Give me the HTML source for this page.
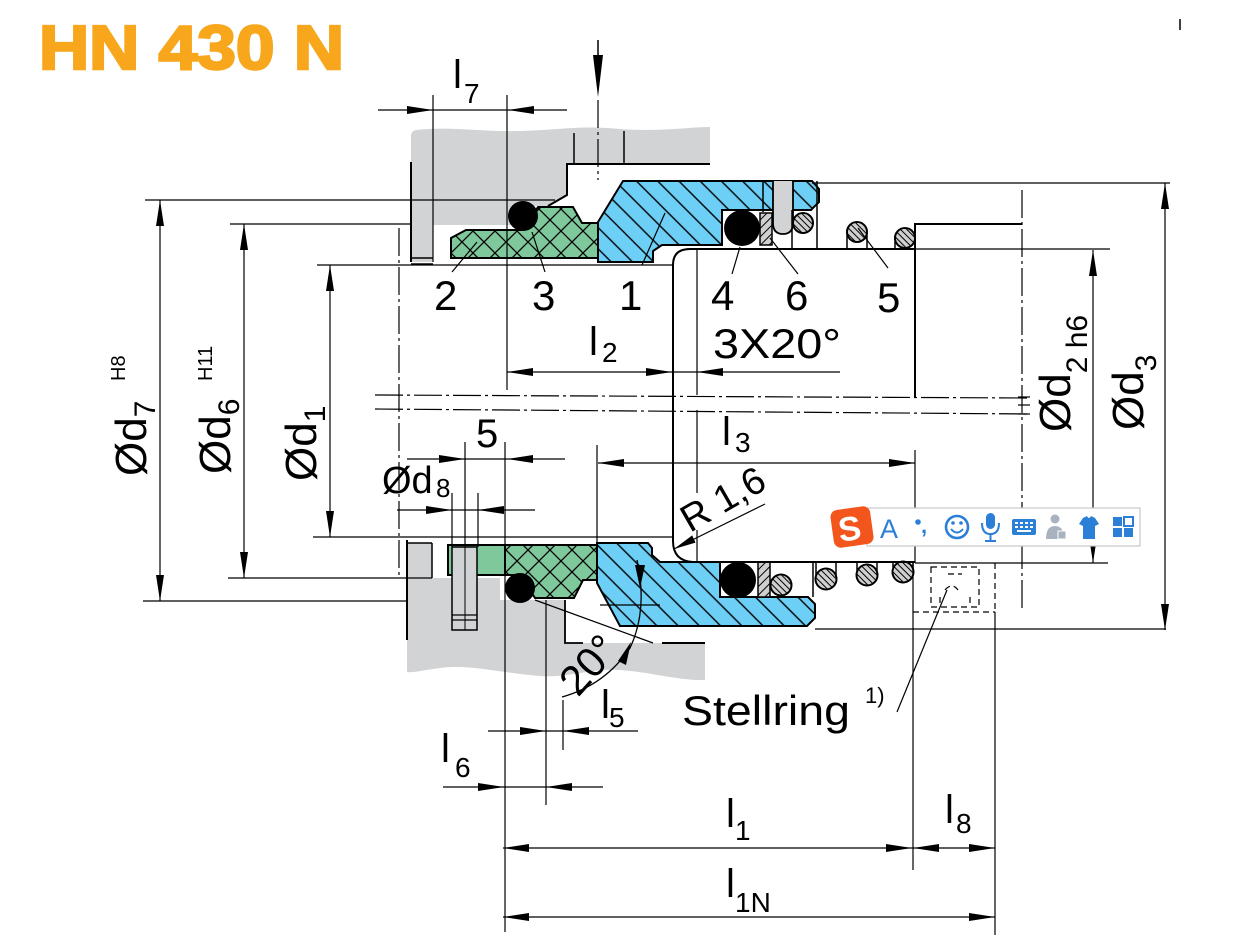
<!DOCTYPE html>
<html><head><meta charset="utf-8"><style>
html,body{margin:0;padding:0;background:#fff;}
svg{display:block;}
text{font-family:"Liberation Sans",sans-serif;fill:#000;}
</style></head><body>
<svg width="1253" height="949" viewBox="0 0 1253 949" xmlns="http://www.w3.org/2000/svg">
<defs>
 <pattern id="xh" patternUnits="userSpaceOnUse" width="22" height="22">
  <path d="M0,0L22,22M22,0L0,22" stroke="#000" stroke-width="1.3"/>
 </pattern>
 <pattern id="bh" patternUnits="userSpaceOnUse" width="15" height="15" patternTransform="rotate(-45)">
  <line x1="7" y1="0" x2="7" y2="15" stroke="#000" stroke-width="1.4"/>
 </pattern>
 <pattern id="ch" patternUnits="userSpaceOnUse" width="4.5" height="4.5" patternTransform="rotate(-45)">
  <line x1="2" y1="0" x2="2" y2="4.5" stroke="#000" stroke-width="1"/>
 </pattern>
 <pattern id="ph" patternUnits="userSpaceOnUse" width="6" height="6" patternTransform="rotate(45)">
  <line x1="3" y1="0" x2="3" y2="6" stroke="#000" stroke-width="1"/>
 </pattern>
</defs>

<!-- Title -->
<text x="39" y="69" font-size="62" font-weight="bold" style="fill:#f8a61c;stroke:#f8a61c;stroke-width:2.5" textLength="305" lengthAdjust="spacingAndGlyphs">HN 430 N</text>
<line x1="1180" y1="19" x2="1180" y2="30" stroke="#000" stroke-width="1.5"/>

<!-- ===== Upper gray housing ===== -->
<path d="M411,136 Q411,131 416,130 C450,126 480,132 520,131 C560,130 580,125 620,129 C660,132 690,127 710,127 L710,164 L567,164 L567,195 L548,206 L512,206 L512,225 L433,225 L433,262 L411,262 Z" fill="#d1d3d4"/>
<g stroke="#000" fill="none">
 <path d="M710,164 L567,164 L567,195 L548,206" stroke-width="2"/>
 <line x1="411" y1="162" x2="411" y2="262" stroke-width="2"/>
 <line x1="411" y1="258" x2="433" y2="258" stroke-width="1.5"/>
 <line x1="411" y1="264" x2="433" y2="264" stroke-width="1.5"/>
 <line x1="574" y1="133" x2="574" y2="164" stroke-width="1.5"/>
 <line x1="624" y1="131" x2="624" y2="164" stroke-width="1.5"/>
</g>

<!-- ===== Lower gray housing ===== -->
<path d="M407,543 L432,543 L432,578 L500,578 L500,600 L565,600 L565,643 L705,643 L705,680 C680,681 650,672 620,670 C590,668 570,678 540,676 C500,673 470,664 440,668 C425,670 412,673 407,672 Z" fill="#d1d3d4"/>
<g stroke="#000" fill="none">
 <line x1="407" y1="540" x2="407" y2="640" stroke-width="2"/>
 <line x1="432" y1="543" x2="432" y2="578" stroke-width="1.5"/>
 <line x1="407" y1="543" x2="432" y2="543" stroke-width="1.5"/>
 <path d="M565,600 L565,643 L583,643" stroke-width="1.8"/>
 <line x1="662" y1="643" x2="705" y2="643" stroke-width="2"/>
 <line x1="535" y1="600" x2="653" y2="643" stroke-width="1.2"/>
</g>

<!-- ===== Upper green seat ===== -->
<polygon points="451,238 466,230 523,230 538,207 573,207 582,223 598,223 598,258 451,258" fill="#7fc89b"/>
<polygon points="451,238 466,230 523,230 538,207 573,207 582,223 598,223 598,258 451,258" fill="url(#xh)" stroke="#000" stroke-width="2"/>
<circle cx="523" cy="216" r="15" fill="#000"/>

<!-- ===== Lower green seat ===== -->
<rect x="448" y="545" width="57" height="30" fill="#7fc89b" stroke="#000" stroke-width="2"/>
<polygon points="505,545 597,545 597,580 583,580 574,598 535,598 520,575 505,575" fill="#7fc89b"/>
<polygon points="505,545 597,545 597,580 583,580 574,598 535,598 520,575 505,575" fill="url(#xh)" stroke="#000" stroke-width="2"/>
<circle cx="520" cy="588" r="15" fill="#000"/>
<!-- d8 pin -->
<rect x="452" y="547" width="25" height="83" fill="#d1d3d4" stroke="#000" stroke-width="1.5"/>
<line x1="465" y1="547" x2="465" y2="630" stroke="#000" stroke-width="1"/>
<line x1="452" y1="615" x2="477" y2="615" stroke="#000" stroke-width="1.2"/>
<line x1="452" y1="620" x2="477" y2="620" stroke="#000" stroke-width="1.2"/>

<!-- ===== Upper blue ring ===== -->
<polygon points="598,222 623,181 812,181 819,189 819,202 811,210 722,210 722,245 662,245 653,251 653,262 598,262" fill="#6dcff6"/>
<polygon points="598,222 623,181 812,181 819,189 819,202 811,210 722,210 722,245 662,245 653,251 653,262 598,262" fill="url(#bh)" stroke="#000" stroke-width="2"/>
<line x1="763" y1="181" x2="763" y2="212" stroke="#000" stroke-width="1.5"/>
<path d="M773,181 L773,223 Q773,234 783,234 Q793,234 793,223 L793,181" fill="#d1d3d4" stroke="#000" stroke-width="1.8"/>
<rect x="760" y="213" width="12" height="32" fill="#cfcfcf"/>
<rect x="760" y="213" width="12" height="32" fill="url(#ph)" stroke="#000" stroke-width="1.5"/>
<circle cx="742" cy="228" r="18" fill="#000"/>

<!-- ===== Lower blue ring ===== -->
<polygon points="597,543 648,543 652,548 652,555 660,562 720,562 720,597 808,597 815,604 815,618 807,626 620,626 597,583" fill="#6dcff6"/>
<polygon points="597,543 648,543 652,548 652,555 660,562 720,562 720,597 808,597 815,604 815,618 807,626 620,626 597,583" fill="url(#bh)" stroke="#000" stroke-width="2"/>
<line x1="600" y1="605" x2="660" y2="605" stroke="#000" stroke-width="1.2"/>
<rect x="758" y="562" width="12" height="35" fill="#cfcfcf"/>
<rect x="758" y="562" width="12" height="35" fill="url(#ph)" stroke="#000" stroke-width="1.5"/>
<circle cx="738" cy="580" r="18" fill="#000"/>

<!-- ===== Springs ===== -->
<g stroke="#000" stroke-width="1.5" fill="none">
 <line x1="792" y1="210" x2="792" y2="248"/>
 <line x1="817" y1="181" x2="817" y2="248"/>
 <line x1="847" y1="232" x2="847" y2="248"/><line x1="867" y1="232" x2="867" y2="248"/>
 <line x1="895" y1="238" x2="895" y2="248"/><line x1="915" y1="238" x2="915" y2="248"/>
 <line x1="813" y1="562" x2="813" y2="597"/>
 <line x1="816" y1="563" x2="816" y2="579"/><line x1="836" y1="563" x2="836" y2="579"/>
 <line x1="857" y1="563" x2="857" y2="575"/><line x1="877" y1="563" x2="877" y2="575"/>
 <line x1="893" y1="563" x2="893" y2="572"/><line x1="913" y1="563" x2="913" y2="572"/>
</g>
<g stroke="#000" stroke-width="1.8">
 <circle cx="803" cy="223" r="10" fill="#cfcfcf"/><circle cx="803" cy="223" r="10" fill="url(#ch)"/>
 <circle cx="857" cy="232" r="10" fill="#cfcfcf"/><circle cx="857" cy="232" r="10" fill="url(#ch)"/>
 <circle cx="905" cy="238" r="10" fill="#cfcfcf"/><circle cx="905" cy="238" r="10" fill="url(#ch)"/>
 <circle cx="781" cy="585" r="10.5" fill="#cfcfcf"/><circle cx="781" cy="585" r="10.5" fill="url(#ch)"/>
 <circle cx="826" cy="579" r="10.5" fill="#cfcfcf"/><circle cx="826" cy="579" r="10.5" fill="url(#ch)"/>
 <circle cx="867" cy="575" r="10.5" fill="#cfcfcf"/><circle cx="867" cy="575" r="10.5" fill="url(#ch)"/>
 <circle cx="903" cy="572" r="10.5" fill="#cfcfcf"/><circle cx="903" cy="572" r="10.5" fill="url(#ch)"/>
</g>

<!-- ===== Shaft ===== -->
<g stroke="#000" fill="none">
 <path d="M673,541 L673,265 Q673,249 690,249 L915,249" stroke-width="2"/>
 <path d="M673,541 Q673,561 693,562 L915,562" stroke-width="2"/>
 <line x1="915" y1="249" x2="1110" y2="249" stroke-width="1.2"/>
 <line x1="915" y1="563" x2="1108" y2="563" stroke-width="1.2"/>
 <path d="M915,397 L915,224 L1022,224" stroke-width="2"/>
 <line x1="697" y1="249" x2="697" y2="395" stroke-width="1.2"/>
 <line x1="697" y1="410" x2="697" y2="493" stroke-width="1.2"/>
 <line x1="697" y1="530" x2="697" y2="562" stroke-width="1.2"/>
 <line x1="812" y1="183" x2="1170" y2="183" stroke-width="1.2"/>
 <line x1="815" y1="629" x2="1166" y2="629" stroke-width="1.2"/>
</g>

<!-- centre lines -->
<g stroke="#000" stroke-width="1.2" fill="none" stroke-dasharray="28 4 3 4">
 <line x1="375" y1="395" x2="1030" y2="398"/>
 <line x1="375" y1="409" x2="1030" y2="414"/>
 <line x1="399" y1="228" x2="399" y2="578"/>
 <line x1="1022" y1="190" x2="1022" y2="612"/>
 <line x1="598" y1="100" x2="598" y2="180"/>
</g>
<g stroke="#000" stroke-width="1.2">
 <line x1="1018" y1="397" x2="1030" y2="397"/><line x1="1018" y1="405" x2="1030" y2="405"/><line x1="1018" y1="414" x2="1030" y2="414"/>
</g>

<!-- extension lines -->
<g stroke="#000" stroke-width="1.2" fill="none">
 <line x1="145" y1="200" x2="555" y2="200"/>
 <line x1="230" y1="224" x2="411" y2="224"/>
 <line x1="317" y1="265" x2="673" y2="265"/>
 <line x1="313" y1="537" x2="673" y2="537"/>
 <line x1="228" y1="578" x2="432" y2="578"/>
 <line x1="143" y1="601" x2="407" y2="601"/>
 <line x1="433" y1="95" x2="433" y2="262"/>
 <line x1="507" y1="95" x2="507" y2="390"/>
 <line x1="505" y1="442" x2="505" y2="932"/>
 <line x1="465" y1="442" x2="465" y2="547"/>
 <line x1="452" y1="493" x2="452" y2="547"/>
 <line x1="478" y1="493" x2="478" y2="547"/>
 <line x1="546" y1="600" x2="546" y2="805"/>
 <line x1="563" y1="700" x2="563" y2="750"/>
 <line x1="597" y1="445" x2="597" y2="545"/>
 <line x1="913" y1="563" x2="913" y2="870"/>
 <line x1="995" y1="612" x2="995" y2="935"/>
 <line x1="915" y1="450" x2="915" y2="563"/>
</g>
<!-- stellring dashed -->
<g stroke="#000" stroke-width="1.2" fill="none" stroke-dasharray="6 4">
 <line x1="995" y1="563" x2="995" y2="612"/>
 <line x1="913" y1="612" x2="995" y2="612"/>
 <rect x="931" y="567" width="48" height="40"/>
 <path d="M945,590 Q952,582 958,590 M940,597 L940,607 M970,597 L970,607 M948,574 L962,574"/>
</g>

<!-- top arrow -->
<line x1="598" y1="40" x2="598" y2="70" stroke="#000" stroke-width="1.5"/>
<polygon points="598,97 593,55 603,55" fill="#000"/>

<!-- dimension lines -->
<g stroke="#000" stroke-width="1.2">
 <line x1="160" y1="200" x2="160" y2="601"/>
 <line x1="244" y1="224" x2="244" y2="578"/>
 <line x1="330" y1="265" x2="330" y2="537"/>
 <line x1="1093" y1="250" x2="1093" y2="563"/>
 <line x1="1165" y1="183" x2="1165" y2="630"/>
 <line x1="378" y1="110" x2="567" y2="110"/>
 <line x1="507" y1="372" x2="840" y2="372"/>
 <line x1="407" y1="459" x2="565" y2="459"/>
 <line x1="397" y1="510" x2="535" y2="510"/>
 <line x1="598" y1="463" x2="915" y2="463"/>
 <line x1="488" y1="731" x2="638" y2="731"/>
 <line x1="443" y1="787" x2="603" y2="787"/>
 <line x1="503" y1="848" x2="995" y2="848"/>
 <line x1="503" y1="917" x2="995" y2="917"/>
 <line x1="765" y1="504" x2="674" y2="549"/>
 <line x1="897" y1="712" x2="947" y2="590"/>
</g>
<g fill="#000">
 <polygon points="160,200 156,226 164,226"/><polygon points="160,601 156,575 164,575"/>
 <polygon points="244,224 240,250 248,250"/><polygon points="244,578 240,552 248,552"/>
 <polygon points="330,265 326,291 334,291"/><polygon points="330,537 326,511 334,511"/>
 <polygon points="1093,250 1089,276 1097,276"/><polygon points="1093,563 1089,537 1097,537"/>
 <polygon points="1165,183 1161,209 1169,209"/><polygon points="1165,630 1161,604 1169,604"/>
 <polygon points="433,110 407,106 407,114"/><polygon points="508,110 534,106 534,114"/>
 <polygon points="507,372 533,368 533,376"/><polygon points="672,372 646,368 646,376"/><polygon points="697,372 723,368 723,376"/>
 <polygon points="465,459 439,455 439,463"/><polygon points="507,459 533,455 533,463"/>
 <polygon points="452,510 426,506 426,514"/><polygon points="478,510 504,506 504,514"/>
 <polygon points="598,463 624,459 624,467"/><polygon points="915,463 889,459 889,467"/>
 <polygon points="546,731 520,727 520,735"/><polygon points="563,731 589,727 589,735"/>
 <polygon points="504,787 478,783 478,791"/><polygon points="546,787 572,783 572,791"/>
 <polygon points="503,848 529,844 529,852"/><polygon points="912,848 886,844 886,852"/>
 <polygon points="913,848 939,844 939,852"/><polygon points="995,848 969,844 969,852"/>
 <polygon points="503,917 529,913 529,921"/><polygon points="995,917 969,913 969,921"/>
 <polygon points="674,549 695.5,542.6 692.2,535.4"/>
 <polygon points="635,565 645,565 640,588"/>
 <polygon points="631,642 618,661 626,665"/>
</g>
<!-- 20° arc -->
<path d="M637,560 Q648,610 630,648 Q605,685 562,697" stroke="#000" stroke-width="1.3" fill="none"/>

<!-- part leaders -->
<g stroke="#000" stroke-width="1.2">
 <line x1="452" y1="272" x2="477" y2="242"/>
 <line x1="545" y1="272" x2="532" y2="232"/>
 <line x1="642" y1="265" x2="665" y2="213"/>
 <line x1="732" y1="274" x2="740" y2="247"/>
 <line x1="798" y1="274" x2="770" y2="238"/>
 <line x1="888" y1="268" x2="858" y2="228"/>
</g>

<!-- part numbers -->
<g font-size="42">
 <text x="434" y="310">2</text>
 <text x="532" y="310">3</text>
 <text x="619" y="310">1</text>
 <text x="711" y="310">4</text>
 <text x="785" y="310">6</text>
 <text x="877" y="312">5</text>
</g>

<!-- dimension labels -->
<text x="453" y="88" font-size="40">l</text><text x="464" y="103" font-size="28">7</text>
<text x="589" y="355" font-size="40">l</text><text x="602" y="362" font-size="28">2</text>
<text x="713" y="358" font-size="42" textLength="128" lengthAdjust="spacingAndGlyphs">3X20°</text>
<text x="722" y="445" font-size="40">l</text><text x="735" y="452" font-size="28">3</text>
<text x="476" y="447" font-size="40">5</text>
<text x="382" y="493" font-size="38">Ød</text><text x="436" y="497" font-size="26">8</text>
<text x="601" y="718" font-size="40">l</text><text x="609" y="727" font-size="28">5</text>
<text x="441" y="762" font-size="40">l</text><text x="455" y="777" font-size="28">6</text>
<text x="726" y="827" font-size="40">l</text><text x="735" y="840" font-size="28">1</text>
<text x="945" y="823" font-size="40">l</text><text x="956" y="833" font-size="28">8</text>
<text x="726" y="897" font-size="40">l</text><text x="735" y="912" font-size="28">1N</text>
<text x="682" y="725" font-size="42" textLength="168" lengthAdjust="spacingAndGlyphs">Stellring</text>
<text x="865" y="703" font-size="22">1)</text>
<text transform="translate(690,533) rotate(-30)" font-size="38">R 1,6</text>
<text transform="translate(578,698) rotate(-48)" font-size="42">20°</text>

<!-- rotated diameter labels -->
<text transform="translate(146,476) rotate(-90)" font-size="44">Ød<tspan font-size="30" dy="9">7</tspan></text>
<text transform="translate(125,381) rotate(-90)" font-size="20">H8</text>
<text transform="translate(230,474) rotate(-90)" font-size="44">Ød<tspan font-size="30" dy="9">6</tspan></text>
<text transform="translate(212,381) rotate(-90)" font-size="20">H11</text>
<text transform="translate(316,481) rotate(-90)" font-size="44">Ød<tspan font-size="30" dy="9">1</tspan></text>
<text transform="translate(1070,432) rotate(-90)" font-size="44">Ød<tspan font-size="30" dy="17">2 h6</tspan></text>
<text transform="translate(1143,430) rotate(-90)" font-size="44">Ød<tspan font-size="30" dy="13">3</tspan></text>

<!-- input method toolbar overlay -->
<rect x="867" y="508" width="273" height="38" fill="#fff" stroke="#c5c8cc" stroke-width="1.2"/>
<g transform="rotate(-8 852 527)">
 <rect x="832" y="508" width="40" height="38" rx="7" fill="#f2561d"/>
 <text x="838" y="540" font-size="34" font-weight="bold" style="fill:#fff">S</text>
</g>
<text x="880" y="538" font-size="27" style="fill:#2b7fd6">A</text>
<circle cx="918" cy="522" r="2.8" fill="#2b7fd6"/>
<text x="921" y="533" font-size="22" font-weight="bold" style="fill:#2b7fd6">,</text>
<circle cx="957" cy="527" r="11" fill="none" stroke="#2b7fd6" stroke-width="2.6"/>
<circle cx="953" cy="523" r="1.8" fill="#2b7fd6"/><circle cx="961" cy="523" r="1.8" fill="#2b7fd6"/>
<path d="M951,529 Q957,536 963,529" stroke="#2b7fd6" stroke-width="2" fill="none"/>
<rect x="986" y="513" width="9" height="16" rx="4.5" fill="#2b7fd6"/>
<path d="M982,523 Q982,534 990.5,534 Q999,534 999,523" stroke="#2b7fd6" stroke-width="2" fill="none"/>
<line x1="990.5" y1="534" x2="990.5" y2="541" stroke="#2b7fd6" stroke-width="2"/>
<line x1="985" y1="541" x2="996" y2="541" stroke="#2b7fd6" stroke-width="2"/>
<rect x="1012" y="519" width="24" height="16" rx="2" fill="#2b7fd6"/>
<g fill="#fff"><rect x="1015" y="522" width="3" height="2"/><rect x="1020" y="522" width="3" height="2"/><rect x="1025" y="522" width="3" height="2"/><rect x="1030" y="522" width="3" height="2"/><rect x="1015" y="526" width="3" height="2"/><rect x="1020" y="526" width="3" height="2"/><rect x="1025" y="526" width="3" height="2"/><rect x="1030" y="526" width="3" height="2"/><rect x="1017" y="530" width="14" height="2"/></g>
<circle cx="1055" cy="519" r="4.5" fill="#a9b3c0"/>
<path d="M1046,539 Q1046,526 1055,526 Q1064,526 1064,539 Z" fill="#a9b3c0"/>
<rect x="1058" y="531" width="8" height="8" fill="#a9b3c0" stroke="#fff" stroke-width="1"/>
<path d="M1083,518 L1087,516 Q1089,520 1091,516 L1095,518 L1099,524 L1095,526 L1095,539 L1083,539 L1083,526 L1079,524 Z" fill="#2b7fd6"/>
<g fill="#2b7fd6"><rect x="1113" y="517" width="9" height="9"/><rect x="1124" y="517" width="9" height="9" fill="none" stroke="#2b7fd6" stroke-width="2"/><rect x="1113" y="528" width="9" height="9"/><rect x="1124" y="528" width="9" height="9"/></g>
</svg>
</body></html>
